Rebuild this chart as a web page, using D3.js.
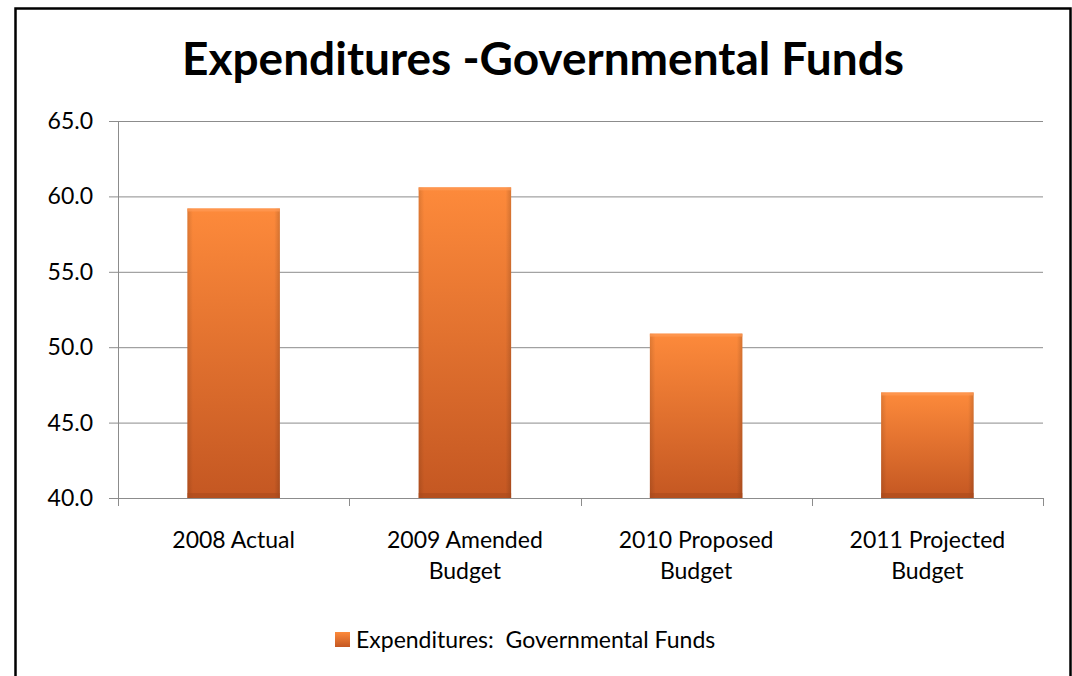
<!DOCTYPE html>
<html><head><meta charset="utf-8">
<script src="https://cdn.jsdelivr.net/npm/d3@7"></script>
<style>body{margin:0;background:#fff}svg{display:block}text{white-space:pre}</style>
</head><body><svg id="c" width="1072" height="676"></svg>
<script>
const categories = [["2008 Actual"],["2009 Amended","Budget"],["2010 Proposed","Budget"],["2011 Projected","Budget"]];
const values = [59.2, 60.6, 50.9, 47.0];
const yTicks = [40,45,50,55,60,65];
const seriesName = "Expenditures:  Governmental Funds";
const title = "Expenditures -Governmental Funds";

const svg = d3.select("#c");
const font = "Lato, 'Open Sans', sans-serif";
svg.append("rect").attr("x",15.5).attr("y",8.5).attr("width",1055).attr("height",700).attr("fill","#fff").attr("stroke","#000").attr("stroke-width",2.5);

const defs = svg.append("defs");
const g1 = defs.append("linearGradient").attr("id","gv").attr("x1",0).attr("y1",0).attr("x2",0).attr("y2",1);
g1.append("stop").attr("offset","0%").attr("stop-color","#fd8a3b");
g1.append("stop").attr("offset","100%").attr("stop-color","#c45722");
const g2 = defs.append("linearGradient").attr("id","gh").attr("x1",0).attr("y1",0).attr("x2",1).attr("y2",0);
g2.append("stop").attr("offset","0%").attr("stop-color","#000").attr("stop-opacity",0.12);
g2.append("stop").attr("offset","6%").attr("stop-color","#000").attr("stop-opacity",0);
g2.append("stop").attr("offset","94%").attr("stop-color","#000").attr("stop-opacity",0);
g2.append("stop").attr("offset","100%").attr("stop-color","#000").attr("stop-opacity",0.15);

const m = {l:118, r:1043, t:121, b:498};
const x = d3.scaleBand().domain(d3.range(categories.length)).range([m.l,m.r]).paddingInner(0.6).paddingOuter(0.3);
const xb = d3.scaleBand().domain(d3.range(categories.length)).range([m.l,m.r]);
const y = d3.scaleLinear().domain([40,65]).range([m.b,m.t]);

svg.append("g").selectAll("line").data(yTicks).join("line")
  .attr("x1",m.l-9).attr("x2",m.r).attr("y1",d=>y(d)+0.5).attr("y2",d=>y(d)+0.5)
  .attr("stroke","#8c8c8c").attr("stroke-width",1);
svg.append("line").attr("x1",m.l+0.5).attr("x2",m.l+0.5).attr("y1",m.t).attr("y2",m.b).attr("stroke","#8c8c8c");
const bounds = d3.range(categories.length+1).map(i=> i<categories.length? xb(i): m.r);
svg.append("g").selectAll("line").data(bounds).join("line")
  .attr("x1",d=>Math.round(d)+0.5).attr("x2",d=>Math.round(d)+0.5).attr("y1",m.b).attr("y2",m.b+8)
  .attr("stroke","#8c8c8c");

svg.append("g").selectAll("text").data(yTicks).join("text")
  .attr("x",93).attr("y",d=>y(d)+8).attr("text-anchor","end")
  .attr("font-family",font).attr("font-size",23).attr("fill","#000")
  .text(d=>d.toFixed(1));

const bars = svg.append("g").selectAll("g").data(values).join("g");
bars.append("rect").attr("x",(d,i)=>x(i)).attr("width",x.bandwidth())
  .attr("y",d=>y(d)).attr("height",d=>y(40)-y(d)).attr("fill","url(#gv)");
bars.append("rect").attr("x",(d,i)=>x(i)).attr("width",x.bandwidth())
  .attr("y",d=>y(d)).attr("height",d=>y(40)-y(d)).attr("fill","url(#gh)");
bars.append("rect").attr("x",(d,i)=>x(i)).attr("width",x.bandwidth())
  .attr("y",d=>y(40)-5).attr("height",5).attr("fill","#a8481b").attr("opacity",0.55);
bars.append("rect").attr("x",(d,i)=>x(i)).attr("width",x.bandwidth())
  .attr("y",d=>y(d)).attr("height",3).attr("fill","#ff9a55").attr("opacity",0.7);

const xl = svg.append("g").selectAll("text").data(categories).join("text")
  .attr("x",(d,i)=>xb(i)+xb.bandwidth()/2).attr("y",548).attr("text-anchor","middle")
  .attr("font-family",font).attr("font-size",23).attr("fill","#000");
xl.selectAll("tspan").data(d=>d).join("tspan")
  .attr("x",function(){return this.parentNode.getAttribute("x");})
  .attr("dy",(d,i)=>i?31:0).text(d=>d);

svg.append("text").attr("x",543).attr("y",75).attr("text-anchor","middle")
  .attr("font-family",font).attr("font-weight","bold").attr("font-size",46).attr("fill","#000").text(title);

svg.append("rect").attr("x",335).attr("y",632).attr("width",15).attr("height",15).attr("fill","url(#gv)");
svg.append("text").attr("x",356).attr("y",648).attr("font-family",font).attr("font-size",23).attr("fill","#000").text(seriesName);
</script></body></html>
